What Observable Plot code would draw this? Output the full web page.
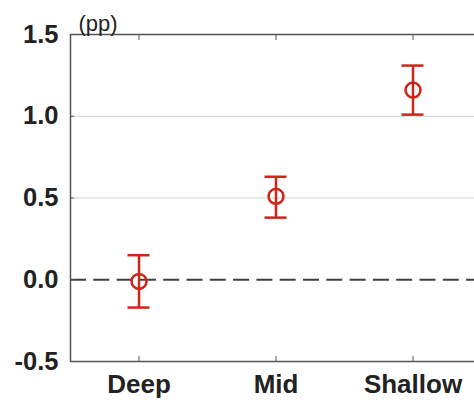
<!DOCTYPE html>
<html>
<head>
<meta charset="utf-8">
<script src="https://cdn.jsdelivr.net/npm/d3@7"></script>
<script src="https://cdn.jsdelivr.net/npm/@observablehq/plot@0.6"></script>
<style>
  html, body { margin: 0; padding: 0; background: #fff; }
  svg { display: block; }
</style>
</head>
<body>
<div id="chart"></div>
<script>
const categories = ["Deep", "Mid", "Shallow"];
const estimates = [-0.01, 0.51, 1.16];
const lower = [-0.17, 0.38, 1.01];
const upper = [0.15, 0.63, 1.31];
const yTicks = [-0.5, 0.0, 0.5, 1.0, 1.5];
const gridValues = [0.5, 1.0];
const unitLabel = "(pp)";

const data = categories.map((c, i) => ({cat: c, est: estimates[i], lo: lower[i], hi: upper[i]}));
const red = "#cf2418";
const capInset = (137 - 22) / 2;

const chart = Plot.plot({
  width: 474,
  height: 403,
  marginLeft: 70,
  marginRight: -7,
  marginTop: 34,
  marginBottom: 42,
  style: {fontFamily: "'Liberation Sans', Arial, sans-serif", background: "#fff"},
  x: {type: "band", domain: categories, padding: 0},
  y: {domain: [-0.5, 1.5], ticks: yTicks},
  marks: [
    Plot.ruleY(gridValues, {stroke: "#d4d4d4", strokeWidth: 1}),
    Plot.ruleY([0], {stroke: "#3f3f3f", strokeWidth: 1.8, strokeDasharray: "16,7.3"}),
    Plot.axisY({ticks: yTicks, tickSize: -4, tickPadding: 16, tickFormat: d => d.toFixed(1), label: null,
      fontSize: 25.5, fontWeight: "bold", fill: "#222", stroke: "#555"}),
    Plot.axisX({anchor: "bottom", tickSize: -5, tickPadding: 18, label: null,
      fontSize: 26, fontWeight: "bold", fill: "#222", stroke: "#555"}),
    Plot.axisX({anchor: "top", tickSize: -5, tickFormat: () => "", label: null, stroke: "#555"}),
    Plot.frame({stroke: "#555", strokeWidth: 1.5}),
    Plot.ruleX(data, {x: "cat", y1: "lo", y2: "hi", stroke: red, strokeWidth: 2.5}),
    Plot.tickY(data, {x: "cat", y: "lo", stroke: red, strokeWidth: 2.5, insetLeft: capInset, insetRight: capInset}),
    Plot.tickY(data, {x: "cat", y: "hi", stroke: red, strokeWidth: 2.5, insetLeft: capInset, insetRight: capInset}),
    Plot.dot(data, {x: "cat", y: "est", r: 7.5, stroke: red, strokeWidth: 2.5, fill: "none"}),
    Plot.text([unitLabel], {frameAnchor: "top-left", dx: 8, dy: -4, text: d => d, textAnchor: "start",
      lineAnchor: "bottom", fontSize: 22, fill: "#222"})
  ]
});
document.getElementById("chart").appendChild(chart);
</script>
</body>
</html>
